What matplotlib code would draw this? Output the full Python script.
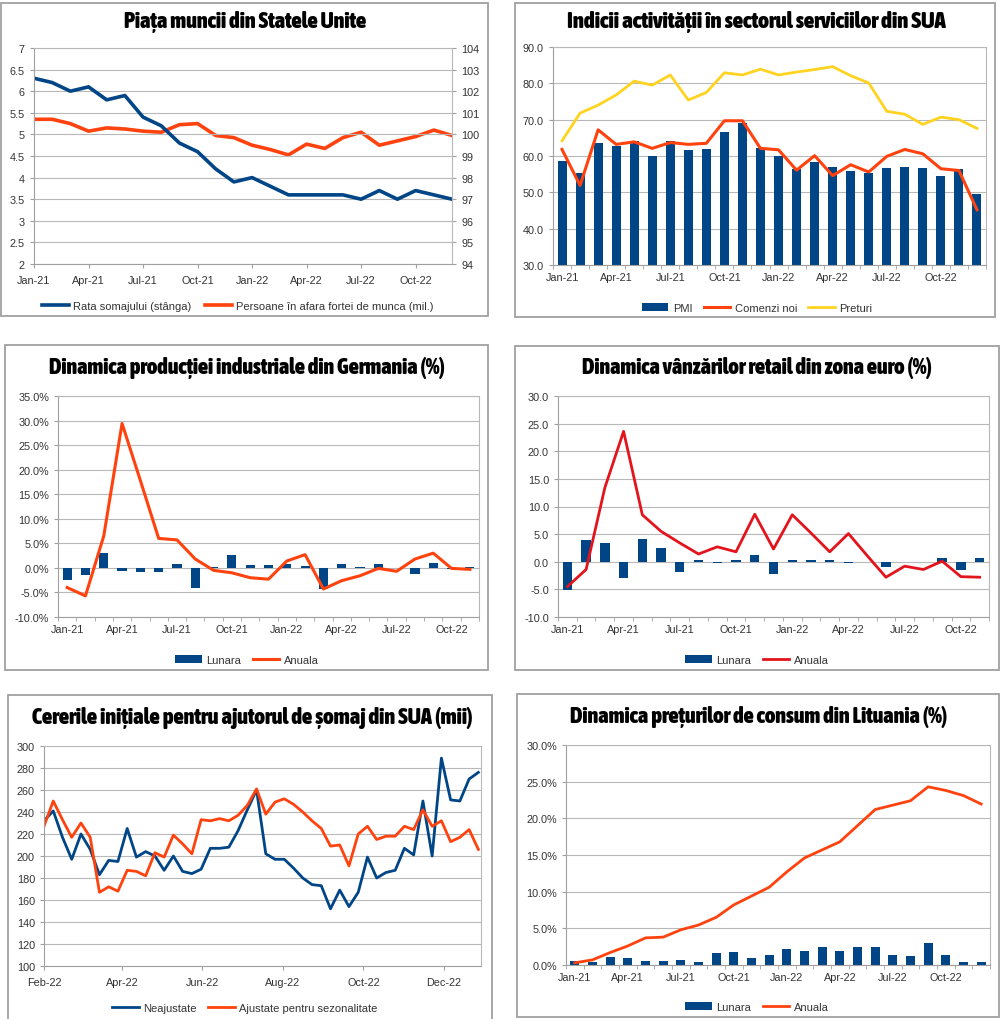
import matplotlib
matplotlib.use("Agg")
import matplotlib.pyplot as plt
import matplotlib.dates as mdates
import numpy as np
import pandas as pd
from matplotlib import font_manager
from matplotlib.font_manager import FontProperties
from matplotlib.patches import Rectangle
from matplotlib.ticker import FuncFormatter, MultipleLocator

W, H = 1000, 1020
BLUE = "#004586"
ORANGE = "#ff420e"
YELLOW = "#ffd320"
RED = "#e3141b"
GRID = "#b8b8b8"
FRAME = "#a0a0a0"
TEXT = "#333333"

plt.rcParams["font.family"] = ["Liberation Sans", "DejaVu Sans"]

MONTHS_24 = [f"{m}-{y}" for y in ("21", "22") for m in
             ("Jan", "Feb", "Mar", "Apr", "May", "Jun", "Jul", "Aug", "Sep", "Oct", "Nov", "Dec")]
MONTHS_23 = MONTHS_24[:23]

# US labour market
unemployment = [6.3, 6.2, 6.0, 6.1, 5.8, 5.9, 5.4, 5.2, 4.8, 4.6, 4.2, 3.9,
                4.0, 3.8, 3.6, 3.6, 3.6, 3.6, 3.5, 3.7, 3.5, 3.7, 3.6, 3.5]
not_in_labour = [100.7, 100.7, 100.5, 100.15, 100.3, 100.25, 100.15, 100.1, 100.45, 100.5, 99.95, 99.85,
                 99.5, 99.3, 99.05, 99.55, 99.35, 99.85, 100.1, 99.5, 99.7, 99.9, 100.2, 99.95]

# US services
pmi = [58.7, 55.3, 63.7, 62.7, 64.0, 60.1, 64.1, 61.7, 61.9, 66.7, 69.1, 62.3,
       59.9, 56.5, 58.3, 57.1, 55.9, 55.3, 56.7, 56.9, 56.7, 54.4, 56.5, 49.6]
new_orders = [61.8, 51.9, 67.2, 63.2, 63.9, 62.1, 63.7, 63.2, 63.5, 69.7, 69.7, 62.1,
              61.7, 56.1, 60.1, 54.6, 57.6, 55.6, 59.9, 61.8, 60.6, 56.5, 56.0, 45.2]
prices = [64.2, 71.8, 74.0, 76.8, 80.6, 79.5, 82.3, 75.4, 77.5, 82.9, 82.3, 83.9,
          82.3, 83.1, 83.8, 84.6, 82.1, 80.1, 72.3, 71.5, 68.7, 70.7, 70.0, 67.6]

# Germany industrial production (%)
de_monthly = [-2.5, -1.5, 3.0, -0.7, -0.8, -0.9, 0.8, -4.0, 0.2, 2.6, 0.6, 0.6,
              0.8, 0.3, -4.2, 0.8, 0.1, 0.8, 0.0, -1.3, 1.0, -0.3, 0.2]
de_annual = [-4.0, -5.7, 6.5, 29.4, 17.8, 6.0, 5.7, 1.8, -0.5, -1.0, -2.0, -2.3,
             1.4, 2.7, -4.3, -2.6, -1.6, -0.1, -0.7, 1.8, 3.0, -0.1, -0.3]

# Euro area retail sales
eu_monthly = [-5.1, 3.9, 3.4, -2.9, 4.2, 2.5, -1.9, 0.3, -0.2, 0.3, 1.2, -2.2,
              0.3, 0.3, 0.3, -0.3, 0.0, -0.9, -0.1, 0.0, 0.7, -1.5, 0.7]
eu_annual = [-4.5, -1.4, 13.4, 23.6, 8.5, 5.5, 3.4, 1.4, 2.7, 1.8, 8.6, 2.3,
             8.5, 5.2, 1.8, 5.1, 1.1, -2.8, -0.8, -1.4, 0.1, -2.7, -2.8]

# US initial jobless claims (thousands), weekly
claims_dates = pd.date_range("2022-02-01", periods=48, freq="7D")
claims_nsa = [232, 241, 217, 197, 220, 206, 183, 196, 195, 225, 199, 204,
              200, 187, 200, 186, 184, 188, 207, 207, 208, 223, 242, 260,
              202, 197, 197, 189, 180, 174, 173, 152, 169, 154, 167, 199,
              180, 185, 187, 207, 201, 250, 200, 289, 251, 250, 270, 276]
claims_sa = [227, 250, 233, 217, 230, 217, 167, 172, 168, 187, 186, 182,
             203, 199, 219, 211, 202, 233, 232, 234, 232, 237, 246, 261,
             238, 249, 252, 247, 240, 232, 225, 209, 210, 191, 220, 227,
             215, 218, 218, 227, 224, 242, 227, 232, 213, 217, 224, 206]

# Lithuania consumer prices (%)
lt_monthly = [0.6, 0.35, 1.1, 1.0, 0.6, 0.6, 0.7, 0.45, 1.6, 1.8, 1.0, 1.3,
              2.2, 1.95, 2.5, 1.95, 2.5, 2.4, 1.3, 1.2, 3.0, 1.3, 0.45, 0.35]
lt_annual = [0.3, 0.7, 1.7, 2.6, 3.7, 3.8, 4.8, 5.45, 6.5, 8.2, 9.4, 10.6,
             12.7, 14.6, 15.7, 16.8, 19.0, 21.2, 21.8, 22.4, 24.3, 23.8, 23.1, 21.95]


def _weight(entry):
    w = entry.weight
    if isinstance(w, str):
        return {"bold": 700, "heavy": 800, "black": 900, "semibold": 600,
                "demibold": 600, "extra bold": 800, "ultrabold": 800}.get(w.lower(), 400)
    return int(w)


def title_font():
    # a heavy condensed face looks closest to the reference titles
    best = None
    for entry in font_manager.fontManager.ttflist:
        name = entry.name.lower()
        stretch = str(entry.stretch).lower()
        narrow = "condensed" in stretch or "condensed" in name or "narrow" in name
        if not narrow or _weight(entry) < 600 or "italic" in str(entry.style).lower():
            continue
        rank = (_weight(entry), "roboto" in name, "dejavu" in name)
        if best is None or rank > best[0]:
            best = (rank, entry.fname)
    if best is None:
        return FontProperties(family="DejaVu Sans", weight="bold")
    return FontProperties(fname=best[1])


TITLE_PROPS = title_font()


def fx(px):
    return px / W


def fy(px):
    return 1 - px / H


def add_axes(fig, left, top, right, bottom):
    ax = fig.add_axes([fx(left), fy(bottom), fx(right - left), (bottom - top) / H])
    for side in ax.spines.values():
        side.set_color(GRID)
        side.set_linewidth(0.8)
    ax.spines["left"].set_color(FRAME)
    ax.spines["bottom"].set_color(FRAME)
    ax.grid(axis="y", color=GRID, linewidth=0.8)
    ax.set_axisbelow(True)
    ax.tick_params(labelsize=7.8, colors=FRAME, labelcolor=TEXT, length=3, width=0.8)
    return ax


def panel_box(fig, left, top, right, bottom):
    fig.patches.append(Rectangle((fx(left), fy(bottom)), fx(right - left), (bottom - top) / H,
                                 transform=fig.transFigure, fill=False,
                                 edgecolor=FRAME, linewidth=1.3))


def title(fig, text, left, right, cy):
    t = fig.text(fx((left + right) / 2), fy(cy), text, ha="center", va="center",
                 fontproperties=TITLE_PROPS.copy(), color="black")
    t.set_fontsize(14)
    width = t.get_window_extent(fig.canvas.get_renderer()).width
    t.set_fontsize(min(14 * (right - left) / width, 17))


def legend(ax, fig, handles, cx, cy):
    ax.legend(handles=handles, loc="center", bbox_to_anchor=(fx(cx), fy(cy)),
              bbox_transform=fig.transFigure, ncol=3, frameon=False, fontsize=8,
              handlelength=2.4, columnspacing=1.0, handletextpad=0.4, labelcolor=TEXT)


def category_axis(ax, labels, bars=True):
    n = len(labels)
    idx = np.arange(n)
    if bars:
        ax.set_xlim(-0.5, n - 0.5)
        ax.set_xticks(idx[::3], [labels[i] for i in idx[::3]])
        ax.set_xticks(np.arange(n + 1) - 0.5, minor=True)
        ax.tick_params(axis="x", which="major", length=0, pad=5)
        ax.tick_params(axis="x", which="minor", length=3, color=FRAME)
    else:
        ax.set_xlim(0, n - 1)
        ax.set_xticks(idx[::3], [labels[i] for i in idx[::3]])
        ax.tick_params(axis="x", pad=5)
    return idx


def pct(decimals):
    return FuncFormatter(lambda v, _: f"{v:.{decimals}f}%")


def dec(decimals):
    return FuncFormatter(lambda v, _: f"{v:.{decimals}f}")


def plot_labour(fig):
    panel_box(fig, 1, 4, 488, 317)
    ax = add_axes(fig, 34, 49, 452, 265)
    idx = category_axis(ax, MONTHS_24, bars=False)
    ax2 = ax.twinx()
    (orange,) = ax2.plot(idx, not_in_labour, color=ORANGE, linewidth=2.6,
                         label="Persoane în afara fortei de munca (mil.)")
    (blue,) = ax.plot(idx, unemployment, color=BLUE, linewidth=2.6,
                      label="Rata somajului (stânga)")
    ax.set_zorder(ax2.get_zorder() + 1)
    ax.patch.set_visible(False)
    ax.set_ylim(2, 7)
    ax.yaxis.set_major_locator(MultipleLocator(0.5))
    ax.yaxis.set_major_formatter(FuncFormatter(lambda v, _: f"{v:g}"))
    ax2.set_ylim(94, 104)
    ax2.yaxis.set_major_locator(MultipleLocator(1))
    for side in ax2.spines.values():
        side.set_visible(False)
    ax2.tick_params(labelsize=7.8, colors=FRAME, labelcolor=TEXT, length=3, width=0.8)
    ax.legend(handles=[blue, orange], loc="center", bbox_to_anchor=(fx(238), fy(307)),
              bbox_transform=fig.transFigure, ncol=2, frameon=False, fontsize=8,
              handlelength=2.4, columnspacing=1.2, handletextpad=0.4, labelcolor=TEXT)
    title(fig, "Piața muncii din Statele Unite", 124, 366, 22)


def plot_services(fig):
    panel_box(fig, 515, 4, 995, 318)
    ax = add_axes(fig, 553, 48, 986, 266)
    idx = category_axis(ax, MONTHS_24)
    bars = ax.bar(idx, [v - 30 for v in pmi], bottom=30, width=0.5, color=BLUE, label="PMI")
    (l1,) = ax.plot(idx, new_orders, color=ORANGE, linewidth=2.2, label="Comenzi noi")
    (l2,) = ax.plot(idx, prices, color=YELLOW, linewidth=2.0, label="Preturi")
    ax.set_ylim(30, 90)
    ax.yaxis.set_major_locator(MultipleLocator(10))
    ax.yaxis.set_major_formatter(dec(1))
    legend(ax, fig, [bars, l1, l2], 757, 309)
    title(fig, "Indicii activității în sectorul serviciilor din SUA", 566, 946, 22)


def plot_germany(fig):
    panel_box(fig, 5, 346, 488, 671)
    ax = add_axes(fig, 58, 397, 479, 618)
    idx = category_axis(ax, MONTHS_23)
    bars = ax.bar(idx, de_monthly, width=0.5, color=BLUE, label="Lunara")
    (line,) = ax.plot(idx, de_annual, color=ORANGE, linewidth=2.2, label="Anuala")
    ax.set_ylim(-10, 35)
    ax.yaxis.set_major_locator(MultipleLocator(5))
    ax.yaxis.set_major_formatter(pct(1))
    legend(ax, fig, [bars, line], 247, 661)
    title(fig, "Dinamica producției industriale din Germania (%)", 50, 444, 368)


def plot_retail(fig):
    panel_box(fig, 515, 347, 999, 671)
    ax = add_axes(fig, 558, 397, 989, 618)
    idx = category_axis(ax, MONTHS_23)
    bars = ax.bar(idx, eu_monthly, width=0.5, color=BLUE, label="Lunara")
    (line,) = ax.plot(idx, eu_annual, color=RED, linewidth=2.0, label="Anuala")
    ax.set_ylim(-10, 30)
    ax.yaxis.set_major_locator(MultipleLocator(5))
    ax.yaxis.set_major_formatter(dec(1))
    legend(ax, fig, [bars, line], 757, 661)
    title(fig, "Dinamica vânzărilor retail din zona euro (%)", 582, 932, 368)


def plot_claims(fig):
    panel_box(fig, 8, 696, 492, 1022)
    ax = add_axes(fig, 44, 747, 481, 967)
    (l1,) = ax.plot(claims_dates, claims_nsa, color=BLUE, linewidth=2.0, label="Neajustate")
    (l2,) = ax.plot(claims_dates, claims_sa, color=ORANGE, linewidth=2.0,
                    label="Ajustate pentru sezonalitate")
    ax.set_xlim(claims_dates[0], claims_dates[-1] + pd.Timedelta(days=2))
    ax.xaxis.set_major_locator(mdates.MonthLocator(bymonth=[2, 4, 6, 8, 10, 12]))
    ax.xaxis.set_major_formatter(mdates.DateFormatter("%b-%y"))
    ax.tick_params(axis="x", pad=5)
    ax.set_ylim(100, 300)
    ax.yaxis.set_major_locator(MultipleLocator(20))
    legend(ax, fig, [l1, l2], 245, 1009)
    title(fig, "Cererile inițiale pentru ajutorul de șomaj din SUA (mii)", 32, 472, 718)


def plot_lithuania(fig):
    panel_box(fig, 517, 695, 999, 1018)
    ax = add_axes(fig, 566, 746, 990, 966)
    idx = category_axis(ax, MONTHS_24)
    bars = ax.bar(idx, lt_monthly, width=0.5, color=BLUE, label="Lunara")
    (line,) = ax.plot(idx, lt_annual, color=ORANGE, linewidth=2.0, label="Anuala")
    ax.set_ylim(0, 30)
    ax.yaxis.set_major_locator(MultipleLocator(5))
    ax.yaxis.set_major_formatter(pct(1))
    legend(ax, fig, [bars, line], 757, 1008)
    title(fig, "Dinamica prețurilor de consum din Lituania (%)", 570, 947, 717)


def main():
    fig = plt.figure(figsize=(W / 100, H / 100), dpi=100)
    plot_labour(fig)
    plot_services(fig)
    plot_germany(fig)
    plot_retail(fig)
    plot_claims(fig)
    plot_lithuania(fig)
    fig.savefig("out.png", dpi=100, facecolor="white")
    plt.close(fig)


if __name__ == "__main__":
    main()
